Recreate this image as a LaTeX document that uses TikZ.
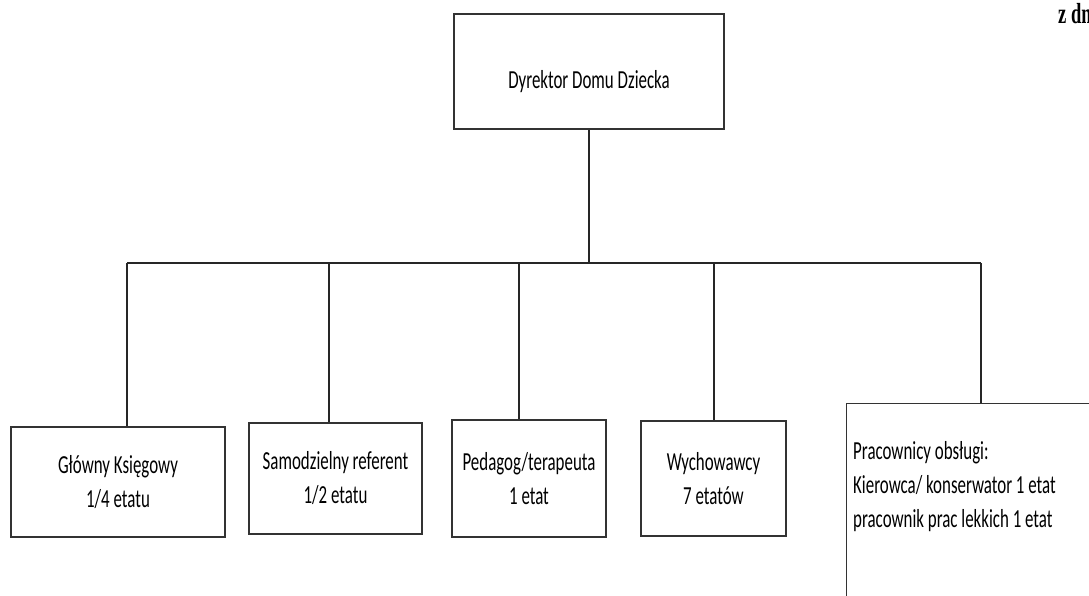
\documentclass[tikz,border=0pt]{standalone}
\usepackage{fontspec}
\setmainfont{Carlito}[FakeStretch=0.65]
\newfontfamily\datafont{Liberation Serif}[FakeStretch=0.64]
\usetikzlibrary{positioning}

\tikzset{
  box/.style={rectangle,draw=black!80,line width=1.3pt,inner sep=0pt,align=center},
  conn/.style={draw=black!85,line width=1.1pt}
}

\begin{document}
\begin{tikzpicture}[x=1pt,y=-1pt,font=\fontsize{26}{34}\selectfont]
\useasboundingbox (0,0) rectangle (1089,596);
\clip (0,0) rectangle (1089,596);

\node(dyr)[box,minimum width=270pt,minimum height=115pt,text height=35pt,text depth=0pt] at (589,71.5){Dyrektor Domu Dziecka};

\node(gk)[box,minimum width=214pt,minimum height=110pt] at (118,482){Główny Księgowy\\1/4 etatu};

\node(sref)[box,minimum width=173pt,minimum height=111pt] at (335.5,478.5){Samodzielny referent\\1/2 etatu};

\node(ped)[box,minimum width=154pt,minimum height=117pt] at (529,478.5){Pedagog/terapeuta\\1 etat};

\node(wych)[box,minimum width=145pt,minimum height=115pt] at (713.5,478.5){Wychowawcy\\7 etatów};

\node(obsl)[box,anchor=north west,minimum width=260pt,minimum height=230pt] at (846,403){};

\node(obsltxt)[anchor=base west,align=left,inner sep=0pt] at (853,527){Pracownicy obsługi:\\Kierowca/ konserwator 1 etat\\pracownik prac lekkich 1 etat};

\node(data)[anchor=base west,inner sep=0pt,font=\datafont\bfseries\fontsize{29}{32}\selectfont] at (1058,24){z dn};

\coordinate(b1) at (127,263);
\coordinate(b2) at (329,263);
\coordinate(b3) at (519,263);
\coordinate(b4) at (714,263);
\coordinate(b5) at (981,263);

\draw [conn] (dyr.south) -- (dyr.south |- b1);
\draw [conn] (b1) -- (b5);
\draw [conn] (b1) -- (b1 |- gk.north);
\draw [conn] (b2) -- (b2 |- sref.north);
\draw [conn] (b3) -- (b3 |- ped.north);
\draw [conn] (b4) -- (b4 |- wych.north);
\draw [conn] (b5) -- (b5 |- obsl.north);

\end{tikzpicture}
\end{document}
